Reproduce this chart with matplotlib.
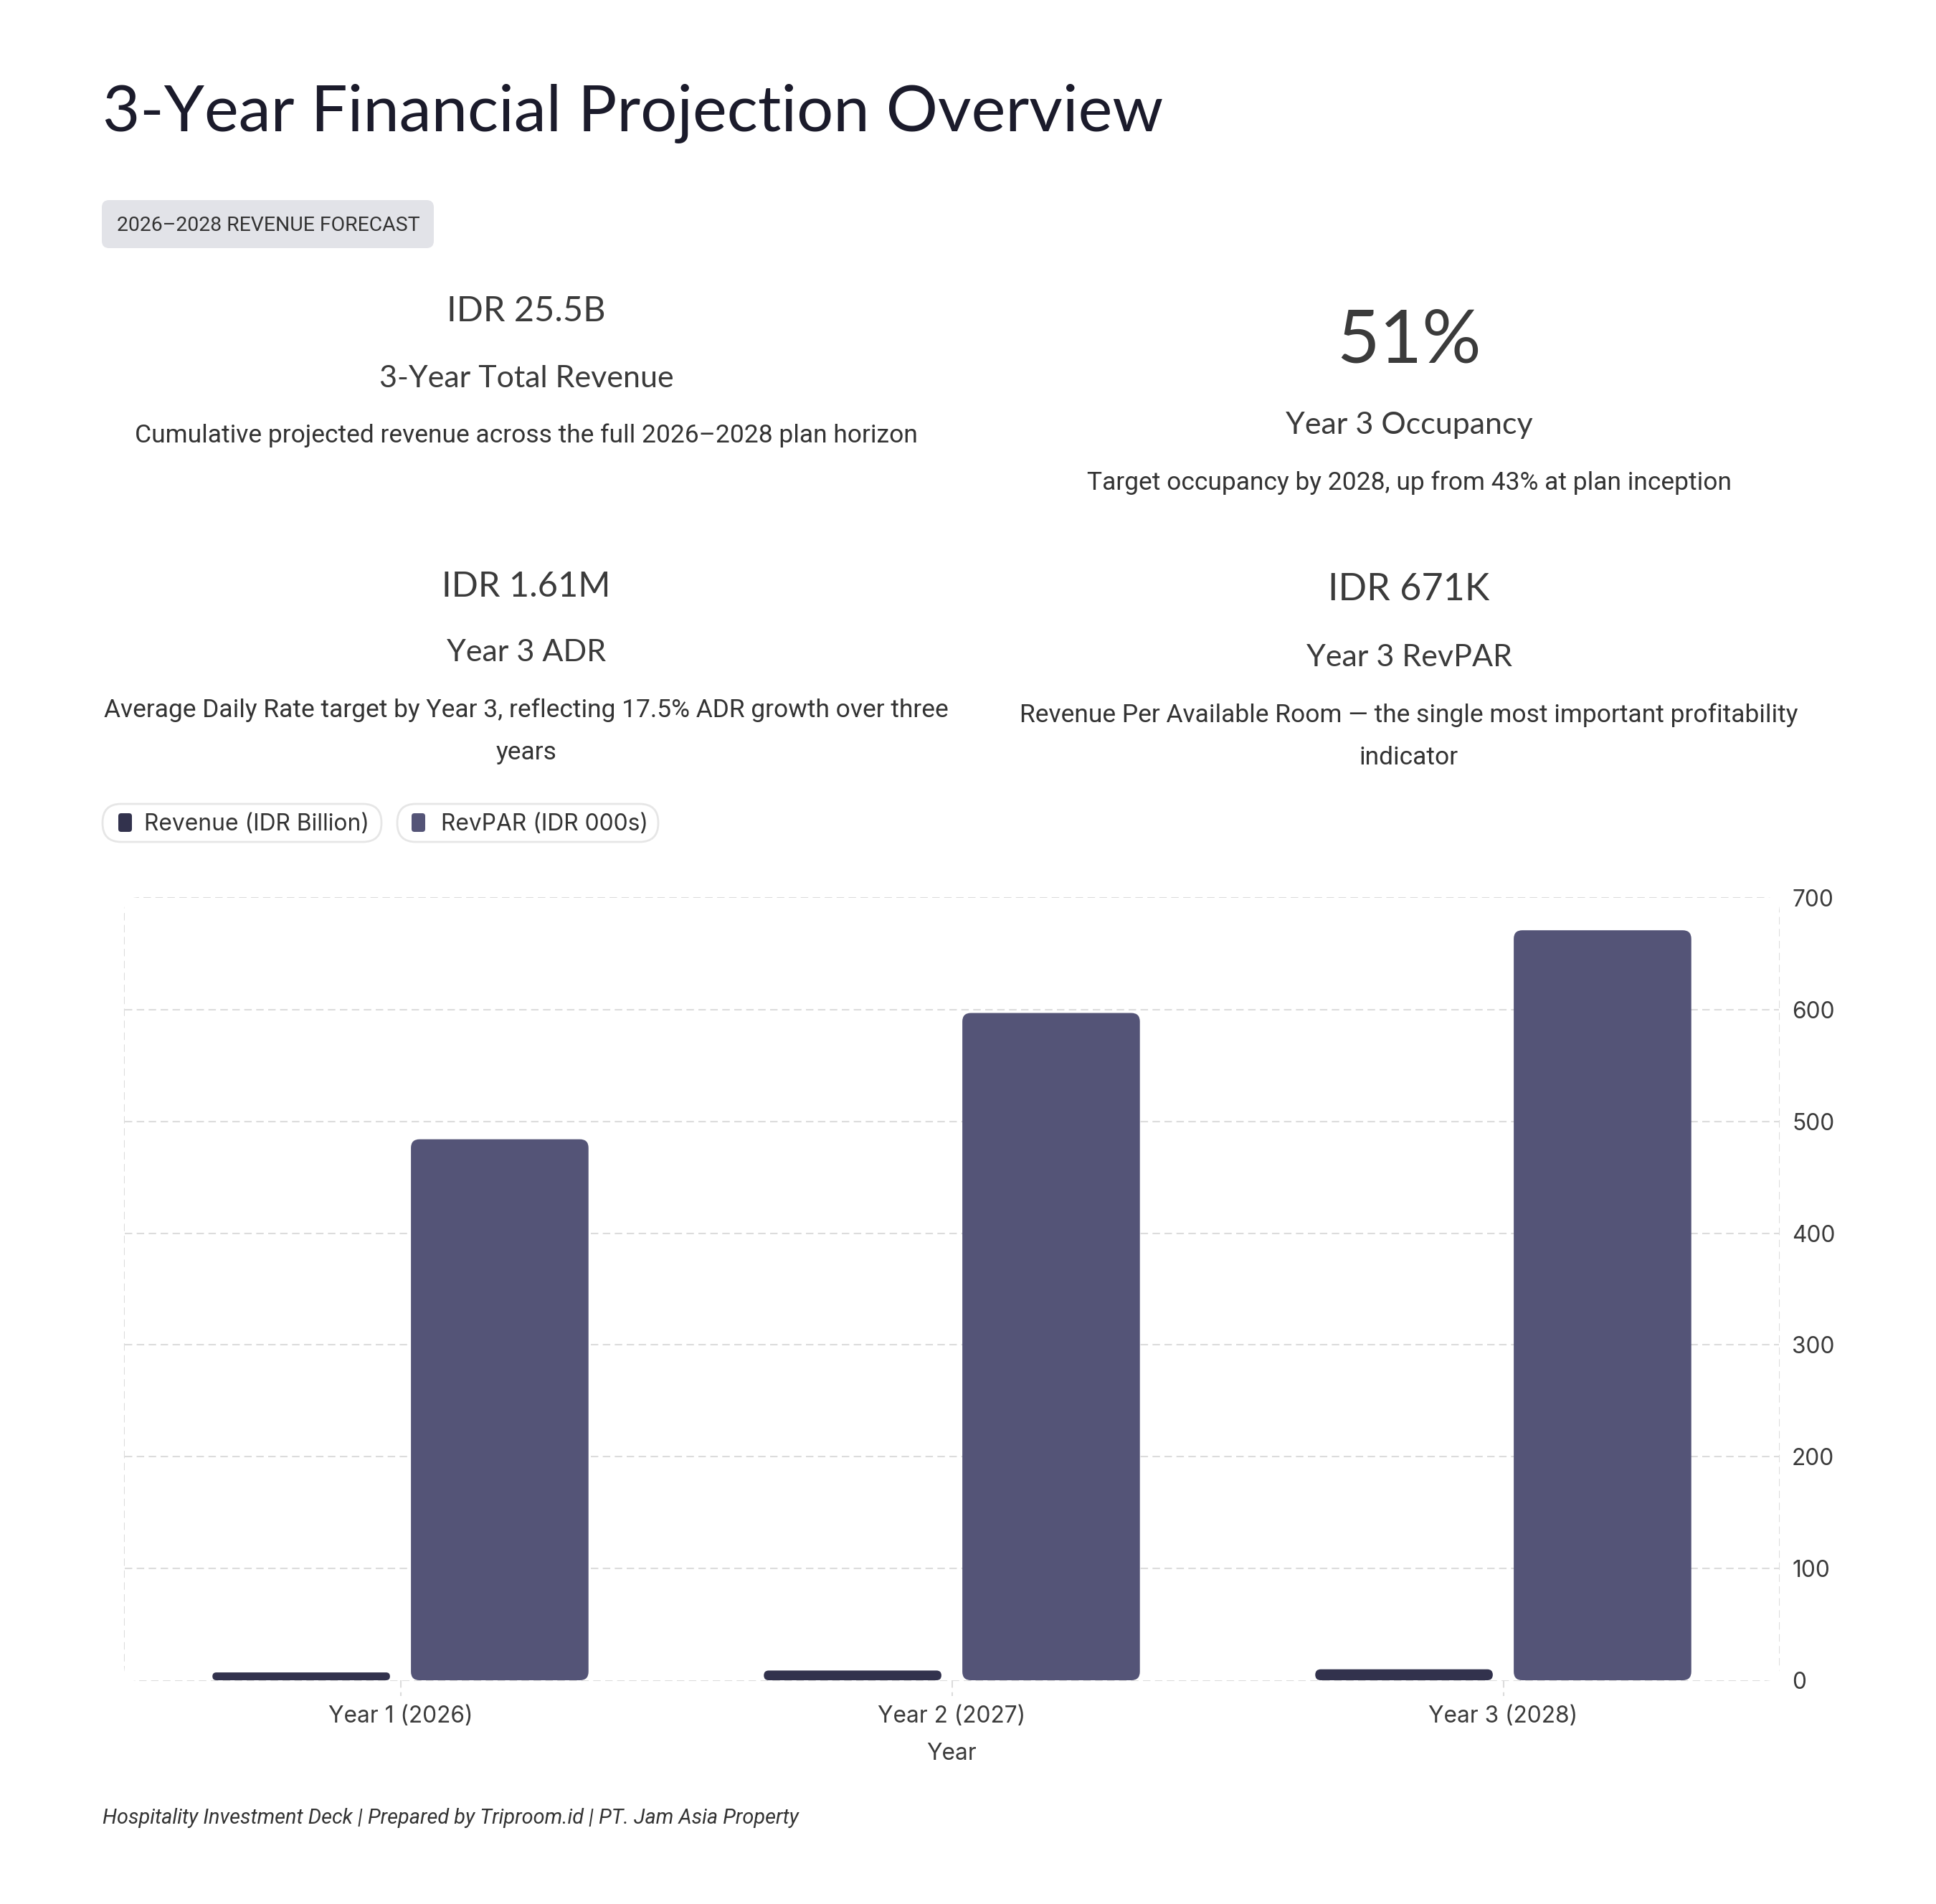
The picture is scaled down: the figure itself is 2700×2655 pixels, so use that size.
import matplotlib
matplotlib.use("Agg")
import matplotlib.pyplot as plt
from matplotlib.patches import FancyBboxPatch

# ---------------- data ----------------
years = ["Year 1 (2026)", "Year 2 (2027)", "Year 3 (2028)"]
series_names = ["Revenue (IDR Billion)", "RevPAR (IDR 000s)"]
revenue_bn = [7.0, 8.7, 9.8]
revpar_k = [484, 597, 671]
y_ticks = [0, 100, 200, 300, 400, 500, 600, 700]
x_title = "Year"

title = "3-Year Financial Projection Overview"
badge = "2026–2028 REVENUE FORECAST"
kpi_values = ["IDR 25.5B", "51%", "IDR 1.61M", "IDR 671K"]
kpi_titles = ["3-Year Total Revenue", "Year 3 Occupancy", "Year 3 ADR", "Year 3 RevPAR"]
kpi_descs = [
    "Cumulative projected revenue across the full 2026–2028 plan horizon",
    "Target occupancy by 2028, up from 43% at plan inception",
    "Average Daily Rate target by Year 3, reflecting 17.5% ADR growth over three\nyears",
    "Revenue Per Available Room — the single most important profitability\nindicator",
]
footer = "Hospitality Investment Deck | Prepared by Triproom.id | PT. Jam Asia Property"

# ---------------- styling ----------------
W, H = 2700, 2655
DPI = 100
C_REV = "#32324d"
C_RVP = "#545477"
C_TEXT = "#3b3b3b"
C_TITLE = "#1b1b2b"
C_GRID = "#dcdcdc"
LATO = ["Lato", "DejaVu Sans"]
ROBOTO = ["Roboto", "DejaVu Sans"]
INTER = ["Inter", "DejaVu Sans"]

fig = plt.figure(figsize=(W / DPI, H / DPI), dpi=DPI)
fig.patch.set_facecolor("white")


def fx(x):
    return x / W


def fy(y):
    return 1 - y / H


def ftext(x, y_center, s, size, family, ha="center", color=C_TEXT, weight="normal", style="normal", cap=0.72):
    em = size * DPI / 72.0
    base = y_center + cap * em / 2
    fig.text(fx(x), fy(base), s, fontsize=size, family=family, ha=ha, va="baseline",
             color=color, fontweight=weight, fontstyle=style)


# Title
ftext(143, 150, title, 65, LATO, ha="left", color=C_TITLE)

# Badge
bx0, by0, bx1, by1 = 142, 279, 605, 346
fig.add_artist(FancyBboxPatch((fx(bx0), fy(by1)), fx(bx1 - bx0), (by1 - by0) / H,
                              boxstyle=f"round,pad=0,rounding_size={10 / W}",
                              mutation_aspect=W / H, transform=fig.transFigure,
                              fc="#e2e3e8", ec="none"))
ftext(163, 312, badge, 20.4, ROBOTO, ha="left", color="#333333")

# KPIs
kpi_x = [734, 1965, 734, 1965]
kpi_val_y = [430, 468, 814, 818]
kpi_val_size = [35, 74, 35, 37.5]
kpi_title_y = [525, 589, 907, 914]
kpi_desc_y = [604, 670, 987, 994]
for i in range(4):
    ftext(kpi_x[i], kpi_val_y[i], kpi_values[i], kpi_val_size[i], LATO, color=C_TEXT)
    ftext(kpi_x[i], kpi_title_y[i], kpi_titles[i], 31, LATO, color=C_TEXT)
    for j, line in enumerate(kpi_descs[i].split("\n")):
        ftext(kpi_x[i], kpi_desc_y[i] + j * 59, line, 25.5, ROBOTO, color="#333333")

# Legend pills
pill_x = [(143, 532), (554, 918)]
sq_x = [165, 574]
txt_x = [201, 615]
py0, py1 = 1121, 1174
colors = [C_REV, C_RVP]
for k in range(2):
    x0, x1 = pill_x[k]
    fig.add_artist(FancyBboxPatch((fx(x0), fy(py1)), fx(x1 - x0), (py1 - py0) / H,
                                  boxstyle=f"round,pad=0,rounding_size={26 / W}",
                                  mutation_aspect=W / H, transform=fig.transFigure,
                                  fc="white", ec="#e6e6e6", lw=2))
    fig.add_artist(FancyBboxPatch((fx(sq_x[k]), fy(1160)), fx(19), 26 / H,
                                  boxstyle=f"round,pad=0,rounding_size={4 / W}",
                                  mutation_aspect=W / H, transform=fig.transFigure,
                                  fc=colors[k], ec="none"))
    ftext(txt_x[k], 1147, series_names[k], 22.9, INTER, ha="left", color="#333333")

# ---------------- chart ----------------
ax_l, ax_r, ax_t, ax_b = 174, 2481, 1252, 2343
ax = fig.add_axes([fx(ax_l), fy(ax_b), fx(ax_r - ax_l), (ax_b - ax_t) / H])
ax.set_xlim(-0.5, 2.5)
ax.set_ylim(0, 700)
for s in ax.spines.values():
    s.set_visible(False)

xs = list(range(len(years)))
bw = 0.322
off = 0.18
rects_rev = ax.bar([x - off for x in xs], revenue_bn, width=bw, color=C_REV)
rects_rvp = ax.bar([x + off for x in xs], revpar_k, width=bw, color=C_RVP)

x_upp = 3.0 / ax.bbox.width
y_upp = 700.0 / ax.bbox.height
aspect = y_upp / x_upp


def round_bars(rects, color, r_px=12):
    for rect in rects:
        x, y = rect.get_x(), rect.get_y()
        w, h = rect.get_width(), rect.get_height()
        r = min(r_px, (w / x_upp) / 2, (h / y_upp) / 2)
        ax.add_patch(FancyBboxPatch((x, y), w, h,
                                    boxstyle=f"round,pad=0,rounding_size={r * x_upp}",
                                    mutation_aspect=aspect, fc=color, ec="none", zorder=3))
        rect.set_visible(False)


round_bars(rects_rev, C_REV)
round_bars(rects_rvp, C_RVP)

# gridlines (interior)
for t in y_ticks[1:-1]:
    ax.axhline(t, color=C_GRID, lw=1.5, ls=(0, (5, 3)), zorder=1)

# dashed rounded border
fig.add_artist(FancyBboxPatch((fx(ax_l), fy(ax_b)), fx(ax_r - ax_l), (ax_b - ax_t) / H,
                              boxstyle=f"round,pad=0,rounding_size={20 / W}",
                              mutation_aspect=W / H, transform=fig.transFigure,
                              fc="none", ec=C_GRID, lw=1.5, ls=(0, (5, 3)), zorder=0))

# small dashed ticks below axis at category centers
xt = ax.get_xaxis_transform()
for x in xs:
    ax.plot([x, x], [0, -22 / (ax_b - ax_t)], transform=xt, color=C_GRID, lw=1.5,
            ls=(0, (5, 3)), clip_on=False)

ax.yaxis.tick_right()
ax.set_yticks(y_ticks)
ax.set_yticklabels([str(t) for t in y_ticks], family=INTER, fontsize=22.8, color=C_TEXT)
ax.tick_params(axis="y", length=0, pad=13)
ax.set_xticks(xs)
ax.set_xticklabels(years, family=INTER, fontsize=22.8, color=C_TEXT)
ax.tick_params(axis="x", length=0, pad=25)
ax.set_xlabel(x_title, family=INTER, fontsize=22.8, color=C_TEXT, va="center")
ax.xaxis.set_label_coords(0.5, -(2445 - ax_b) / (ax_b - ax_t))

# footer
ftext(143, 2533, footer, 20.8, ROBOTO, ha="left", color="#333333", style="italic")

fig.savefig("out.png", dpi=DPI, facecolor="white")
